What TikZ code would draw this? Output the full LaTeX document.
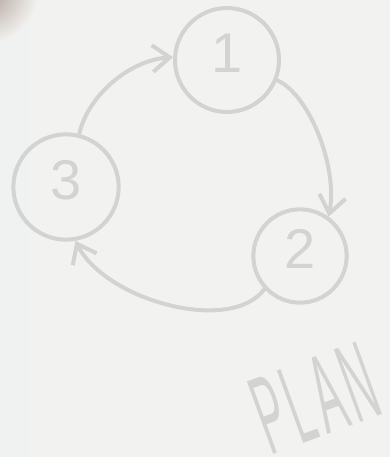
\documentclass[tikz,border=0pt]{standalone}
\usepackage{fontspec}
\newfontfamily\chalkfont{Liberation Sans}
\newfontfamily\planfont[LetterSpace=12]{Liberation Sans}
\usetikzlibrary{arrows.meta}

\definecolor{chalk}{RGB}{211,211,209}
\definecolor{paper}{RGB}{242,242,240}
\definecolor{paperedge}{RGB}{240,242,241}
\definecolor{shadow}{RGB}{175,158,148}

\begin{document}
\begin{tikzpicture}[x=0.75pt, y=-0.75pt, >={Straight Barb[length=13pt, width=20pt]},
    stage/.style={circle, draw=chalk, line width=3pt, inner sep=0pt, text=chalk, text depth=10pt, font=\chalkfont\fontsize{42}{42}\selectfont},
    loop/.style={->, draw=chalk, line width=3pt, line cap=round, line join=round}]
    % paper
    \fill[paper] (0,0) rectangle (390,457);
    \fill[paperedge] (0,0) rectangle (30,457);
    \begin{scope}
        \clip (0,0) rectangle (390,457);
        \shade[inner color=shadow, outer color=paper] (-14,-8) circle (52);
    \end{scope}
    \useasboundingbox (0,0) rectangle (390,457);
    % stages
    \node[stage, minimum size=78pt] (one) at (227,60) {1};
    \node[stage, minimum size=70pt] (two) at (300,256) {2};
    \node[stage, minimum size=79pt] (three) at (66,187) {3};
    % cycle
    \draw[loop] (three.76) .. controls (88,95) and (130,60) .. (one.177);
    \draw[loop] (one.-22) .. controls (310,95) and (338,168) .. (two.54);
    \draw[loop] (two.223) .. controls (230,335) and (105,300) .. (three.-80);
    % caption
    \node[text=chalk, font=\planfont\fontsize{84}{84}\selectfont, inner sep=0pt, rotate=20, xscale=0.37] (plan) at (315,398) {PLAN};
\end{tikzpicture}
\end{document}
